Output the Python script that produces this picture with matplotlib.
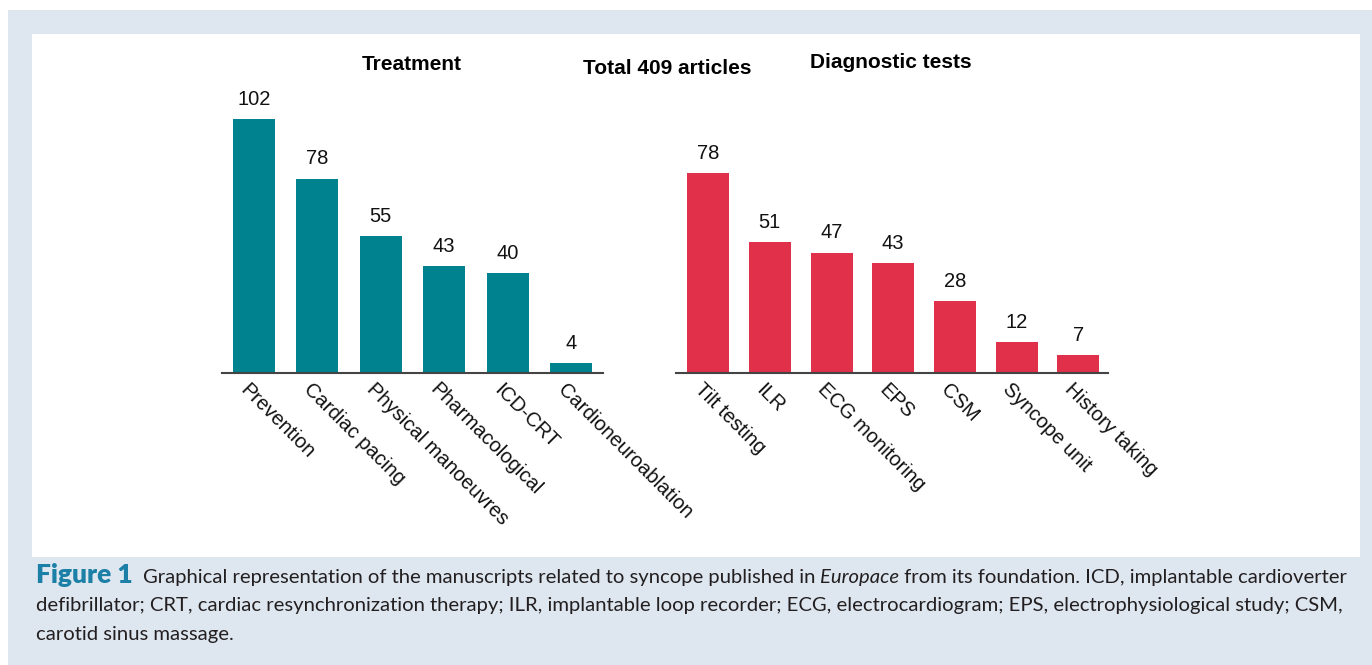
import matplotlib
matplotlib.use("Agg")
from matplotlib import pyplot as plt
from matplotlib.patches import Rectangle
from matplotlib.transforms import ScaledTranslation

# data
treat_names = ['Prevention', 'Cardiac pacing', 'Physical manoeuvres', 'Pharmacological',
               'ICD-CRT', 'Cardioneuroablation']
treat_counts = [102, 78, 55, 43, 40, 4]
diag_names = ['Tilt testing', 'ILR', 'ECG monitoring', 'EPS', 'CSM', 'Syncope unit', 'History taking']
diag_counts = [78, 51, 47, 43, 28, 12, 7]
total_title = 'Total 409 articles'

W, H = 1372, 665
plt.rcParams['font.family'] = ['Liberation Sans', 'DejaVu Sans']
fig = plt.figure(figsize=(W / 100, H / 100), dpi=100)

def fx(px):
    return px / W

def fy(py):
    return 1 - py / H

# frame: light blue box with white panel (behind the axes)
fig.patches.append(Rectangle((fx(8), 0), fx(W - 8), fy(10), transform=fig.transFigure,
                             facecolor='#dee7f0', edgecolor='none', zorder=-2))
fig.patches.append(Rectangle((fx(32), fy(557)), fx(1360 - 32), fy(34) - fy(557),
                             transform=fig.transFigure, facecolor='white', edgecolor='none', zorder=-1))


def draw_panel(rect, names, counts, color, width, xlim, ylim):
    ax = fig.add_axes(rect)
    ax.patch.set_alpha(0)
    x = list(range(len(names)))
    bars = ax.bar(x, counts, width=width, color=color, zorder=2)
    ax.bar_label(bars, labels=[str(c) for c in counts], padding=7.5, fontsize=14.5, color='#111111')
    ax.set_xlim(*xlim)
    ax.set_ylim(*ylim)
    for s in ['top', 'left', 'right']:
        ax.spines[s].set_visible(False)
    ax.spines['bottom'].set_color('#444444')
    ax.spines['bottom'].set_linewidth(1.5)
    ax.set_yticks([])
    ax.set_xticks(x)
    ax.set_xticklabels(names, rotation=-45, ha='left', va='top', rotation_mode='anchor',
                       fontsize=14.5, color='#111111')
    ax.tick_params(axis='x', length=0, pad=5)
    off = ScaledTranslation(-4 / 100, 0, fig.dpi_scale_trans)
    for lab in ax.get_xticklabels():
        lab.set_transform(lab.get_transform() + off)
    return ax


base = 373
draw_panel([fx(222), fy(base), fx(603 - 222), 110 * 2.49 / H], treat_names, treat_counts,
           '#00838f', 0.66, (-0.5, 5.5), (0, 110))
draw_panel([fx(676), fy(base), fx(1108 - 676), 110 * 2.56 / H], diag_names, diag_counts,
           '#e0304a', 0.68, (-0.52, 6.48), (0, 110))

fig.text(fx(412), fy(64), 'Treatment', ha='center', va='center', fontsize=15, fontweight='bold')
fig.text(fx(667), fy(68), total_title, ha='center', va='center', fontsize=15, fontweight='bold')
fig.text(fx(891), fy(62), 'Diagnostic tests', ha='center', va='center', fontsize=15, fontweight='bold')

# caption, built piece by piece
cap_font = ['Lato', 'DejaVu Sans']
cap_size = 14.6
renderer = fig.canvas.get_renderer()


def put_line(pieces, x_px, y_px):
    x = x_px
    for txt, kw, gap in pieces:
        opts = dict(ha='left', va='baseline', fontsize=cap_size, family=cap_font, color='#231f20')
        opts.update(kw)
        t = fig.text(fx(x + gap), fy(y_px), txt, **opts)
        bb = t.get_window_extent(renderer)
        x += gap + bb.width


put_line([('Figure 1', dict(fontweight='heavy', color='#1b7fa6', fontsize=19), 0),
          ('Graphical representation of the manuscripts related to syncope published in ', {}, 10),
          ('Europace', dict(style='italic'), 0),
          (' from its foundation. ICD, implantable cardioverter', {}, 0)], 36, 583)
put_line([('defibrillator; CRT, cardiac resynchronization therapy; ILR, implantable loop recorder; '
           'ECG, electrocardiogram; EPS, electrophysiological study; CSM,', {}, 0)], 36, 611)
put_line([('carotid sinus massage.', {}, 0)], 36, 640)

fig.savefig('out.png', dpi=100)
